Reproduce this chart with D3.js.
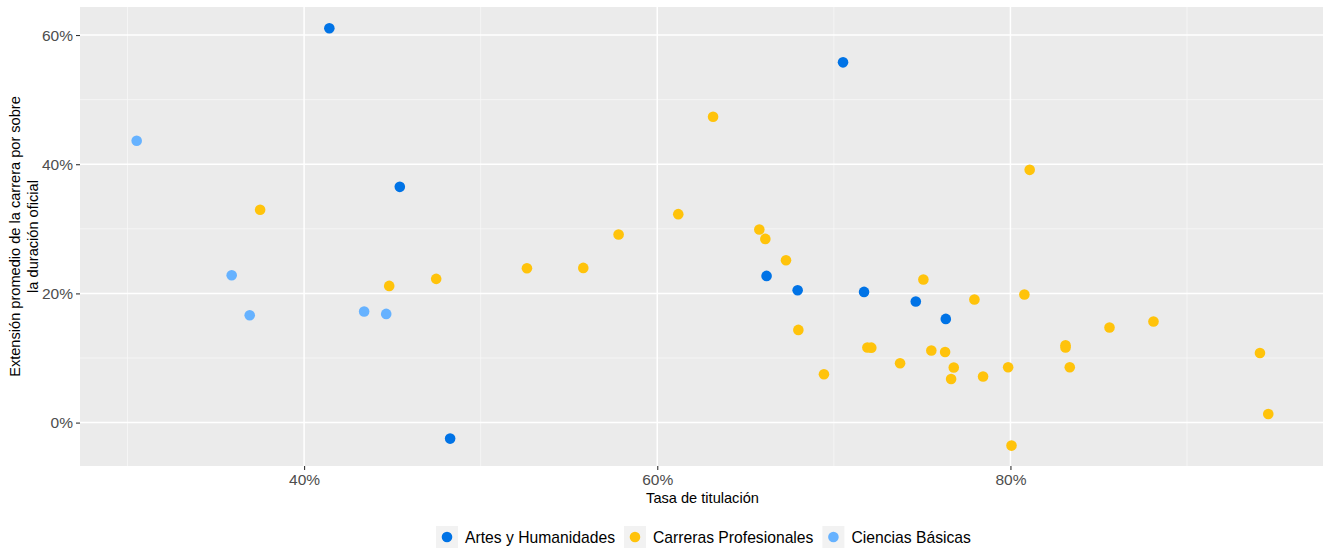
<!DOCTYPE html>
<html>
<head>
<meta charset="utf-8">
<script src="https://cdn.jsdelivr.net/npm/d3@7"></script>
<style>
  html, body { margin: 0; padding: 0; background: #ffffff; }
  svg { display: block; font-family: "Liberation Sans", Arial, sans-serif; }
</style>
</head>
<body>
<svg id="chart" width="1323" height="548"></svg>
<script>
// ---- data ----
const categories = ["Artes y Humanidades", "Carreras Profesionales", "Ciencias Básicas"];
const colors = ["#0073E6", "#FFC30B", "#66B2FF"];

const artesX = [0.4143, 0.4542, 0.4827, 0.7052, 0.6619, 0.6795, 0.7171, 0.7464, 0.7634];
const artesY = [0.6104, 0.3650, -0.0248, 0.5577, 0.2271, 0.2050, 0.2023, 0.1874, 0.1605];

const carrerasX = [0.3751, 0.4482, 0.4748, 0.6316, 0.6119, 0.5781, 0.5262, 0.5581, 0.6578, 0.6612,
                   0.6729, 0.6799, 0.7190, 0.7212, 0.7375, 0.6944, 0.7507, 0.8109, 0.7796, 0.8079,
                   0.7552, 0.7630, 0.7679, 0.7664, 0.7845, 0.7987, 0.8006, 0.8312, 0.8312, 0.8336,
                   0.8561, 0.8810, 0.9413, 0.9460];
const carrerasY = [0.3294, 0.2116, 0.2225, 0.4734, 0.3227, 0.2912, 0.2390, 0.2395, 0.2990, 0.2844,
                   0.2514, 0.1435, 0.1162, 0.1160, 0.0919, 0.0748, 0.2215, 0.3913, 0.1905, 0.1983,
                   0.1115, 0.1094, 0.0852, 0.0675, 0.0713, 0.0857, -0.0356, 0.1198, 0.1162, 0.0857,
                   0.1472, 0.1565, 0.1078, 0.0133];

const cienciasX = [0.3052, 0.3590, 0.3692, 0.4340, 0.4465];
const cienciasY = [0.4363, 0.2282, 0.1662, 0.1720, 0.1683];

const xMajorTicks = [0.4, 0.6, 0.8];
const xMinorTicks = [0.3, 0.5, 0.7, 0.9];
const yMajorTicks = [0.0, 0.2, 0.4, 0.6];
const yMinorTicks = [0.1, 0.3, 0.5];

const xTitle = "Tasa de titulación";
const yTitleLines = ["Extensión promedio de la carrera por sobre", "la duración oficial"];

// ---- layout ----
const panel = { left: 80, right: 1323, top: 7, bottom: 466 };
const svg = d3.select("#chart");

const x = d3.scaleLinear().domain([0.2731, 0.977]).range([panel.left, panel.right]);
const y = d3.scaleLinear().domain([-0.0672, 0.6434]).range([panel.bottom, panel.top]);
const pct = d3.format(".0%");

// panel background
svg.append("rect")
  .attr("x", panel.left).attr("y", panel.top)
  .attr("width", panel.right - panel.left).attr("height", panel.bottom - panel.top)
  .attr("fill", "#EBEBEB");

const grid = svg.append("g");
// minor grid
grid.selectAll(".ymin").data(yMinorTicks).join("line")
  .attr("x1", panel.left).attr("x2", panel.right)
  .attr("y1", d => y(d)).attr("y2", d => y(d))
  .attr("stroke", "#F7F7F7").attr("stroke-width", 0.8);
grid.selectAll(".xmin").data(xMinorTicks).join("line")
  .attr("y1", panel.top).attr("y2", panel.bottom)
  .attr("x1", d => x(d)).attr("x2", d => x(d))
  .attr("stroke", "#F7F7F7").attr("stroke-width", 0.8);
// major grid
grid.selectAll(".ymaj").data(yMajorTicks).join("line")
  .attr("x1", panel.left).attr("x2", panel.right)
  .attr("y1", d => y(d)).attr("y2", d => y(d))
  .attr("stroke", "#FFFFFF").attr("stroke-width", 1.5);
grid.selectAll(".xmaj").data(xMajorTicks).join("line")
  .attr("y1", panel.top).attr("y2", panel.bottom)
  .attr("x1", d => x(d)).attr("x2", d => x(d))
  .attr("stroke", "#FFFFFF").attr("stroke-width", 1.5);

// axes
const xAxis = d3.axisBottom(x).tickValues(xMajorTicks).tickFormat(pct).tickSize(4).tickPadding(4);
const yAxis = d3.axisLeft(y).tickValues(yMajorTicks).tickFormat(pct).tickSize(4).tickPadding(3);

const gx = svg.append("g").attr("transform", `translate(0,${panel.bottom})`).call(xAxis);
const gy = svg.append("g").attr("transform", `translate(${panel.left},0)`).call(yAxis);
[gx, gy].forEach(g => {
  g.select(".domain").remove();
  g.selectAll(".tick line").attr("stroke", "#333333").attr("stroke-width", 1.1);
  g.selectAll(".tick text").attr("fill", "#4D4D4D").style("font-size", "15.5px")
    .style("font-family", "'Liberation Sans', Arial, sans-serif");
});

// axis titles
svg.append("text")
  .attr("x", (panel.left + panel.right) / 2 + 1).attr("y", 503)
  .attr("text-anchor", "middle")
  .style("font-size", "14.6px").attr("fill", "#000000")
  .text(xTitle);

const yMid = (panel.top + panel.bottom) / 2;
const yt = svg.append("text")
  .attr("transform", `translate(0,${yMid}) rotate(-90)`)
  .attr("text-anchor", "middle")
  .style("font-size", "14.6px").attr("fill", "#000000");
yTitleLines.forEach((line, i) => {
  yt.append("tspan").attr("x", 0).attr("y", 20 + i * 17.5).text(line);
});

// points
const seriesData = [
  { cat: categories[0], color: colors[0], xs: artesX, ys: artesY },
  { cat: categories[1], color: colors[1], xs: carrerasX, ys: carrerasY },
  { cat: categories[2], color: colors[2], xs: cienciasX, ys: cienciasY }
];
const pointsG = svg.append("g");
seriesData.forEach(s => {
  const pts = s.xs.map((v, i) => ({ x: v, y: s.ys[i] }));
  pointsG.append("g").selectAll("circle").data(pts).join("circle")
    .attr("cx", d => x(d.x)).attr("cy", d => y(d.y))
    .attr("r", 5.3).attr("fill", s.color);
});

// legend
const legend = svg.append("g");
const keySize = 22;
const keyY = 526;
let cursor = 436;
seriesData.forEach(s => {
  const item = legend.append("g").attr("transform", `translate(${cursor},${keyY})`);
  item.append("rect").attr("width", keySize).attr("height", keySize).attr("fill", "#F2F2F2");
  item.append("circle").attr("cx", keySize / 2).attr("cy", keySize / 2).attr("r", 5.3).attr("fill", s.color);
  const t = item.append("text")
    .attr("x", keySize + 7).attr("y", keySize / 2 + 5.5)
    .style("font-size", "15.7px").attr("fill", "#000000")
    .text(s.cat);
  const w = t.node().getComputedTextLength();
  cursor += keySize + 7 + w + 9;
});
</script>
</body>
</html>
